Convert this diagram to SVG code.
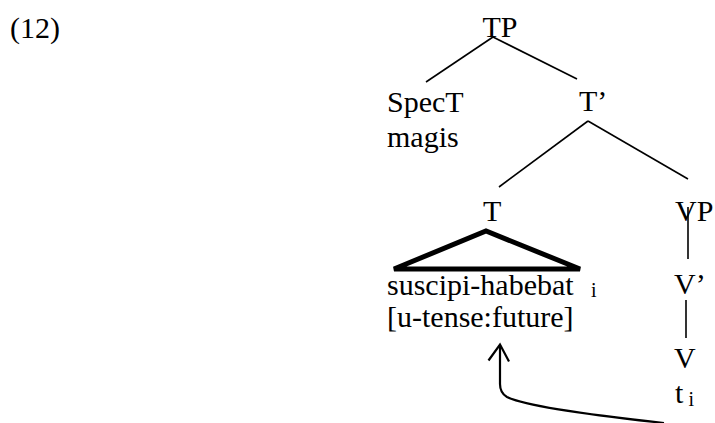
<svg xmlns="http://www.w3.org/2000/svg" width="715" height="423" viewBox="0 0 715 423" font-family="'Liberation Serif', 'Times New Roman', serif">
  <style>
    text { font-family: "Liberation Serif", "Times New Roman", serif; font-size: 30px; fill: #000; }
    text.sub { font-size: 20px; }
    .edge { stroke: #000; stroke-width: 1.6; fill: none; stroke-linecap: butt; }
    .tri { stroke: #000; stroke-width: 5; fill: none; }
    .move { stroke: #000; stroke-width: 2.2; fill: none; stroke-linejoin: miter; }
  </style>

  <text id="example-number" x="10" y="38">(12)</text>

  <!-- tree branches -->
  <g id="connectors">
    <line class="edge" x1="493" y1="37" x2="426" y2="82"/>
    <line class="edge" x1="493" y1="37" x2="577" y2="79"/>
    <line class="edge" x1="588" y1="121" x2="499" y2="187"/>
    <line class="edge" x1="588" y1="121" x2="688" y2="179"/>
    <line class="edge" x1="688" y1="207" x2="688" y2="259"/>
    <line class="edge" x1="686" y1="300" x2="686" y2="338"/>
    <!-- movement arrow from the trace up to the feature bundle -->
    <path class="move" d="M 664 423 C 600 416, 525 406, 507 397 Q 500 393 500 384 L 500 345"/>
    <polyline class="move" points="488.5,360.5 500,344.5 509,361.5"/>
  </g>

  <g id="TP"><text x="482.5" y="37">TP</text></g>
  <g id="SpecT">
    <text x="387" y="112">SpecT</text>
    <text x="387" y="147">magis</text>
  </g>
  <g id="Tbar"><text x="579" y="111">T’</text></g>
  <g id="T">
    <text x="483" y="221">T</text>
    <polygon class="tri" points="394,269 486,231 580,269"/>
    <text x="387" y="295">suscipi-habebat</text>
    <text class="sub" x="591" y="297">i</text>
    <text x="387" y="327">[u-tense:future]</text>
  </g>
  <g id="VP"><text x="675" y="221">VP</text></g>
  <g id="Vbar"><text x="674" y="294">V’</text></g>
  <g id="V">
    <text x="674" y="368">V</text>
    <text x="675" y="403">t</text>
    <text class="sub" x="688.5" y="406">i</text>
  </g>
</svg>
